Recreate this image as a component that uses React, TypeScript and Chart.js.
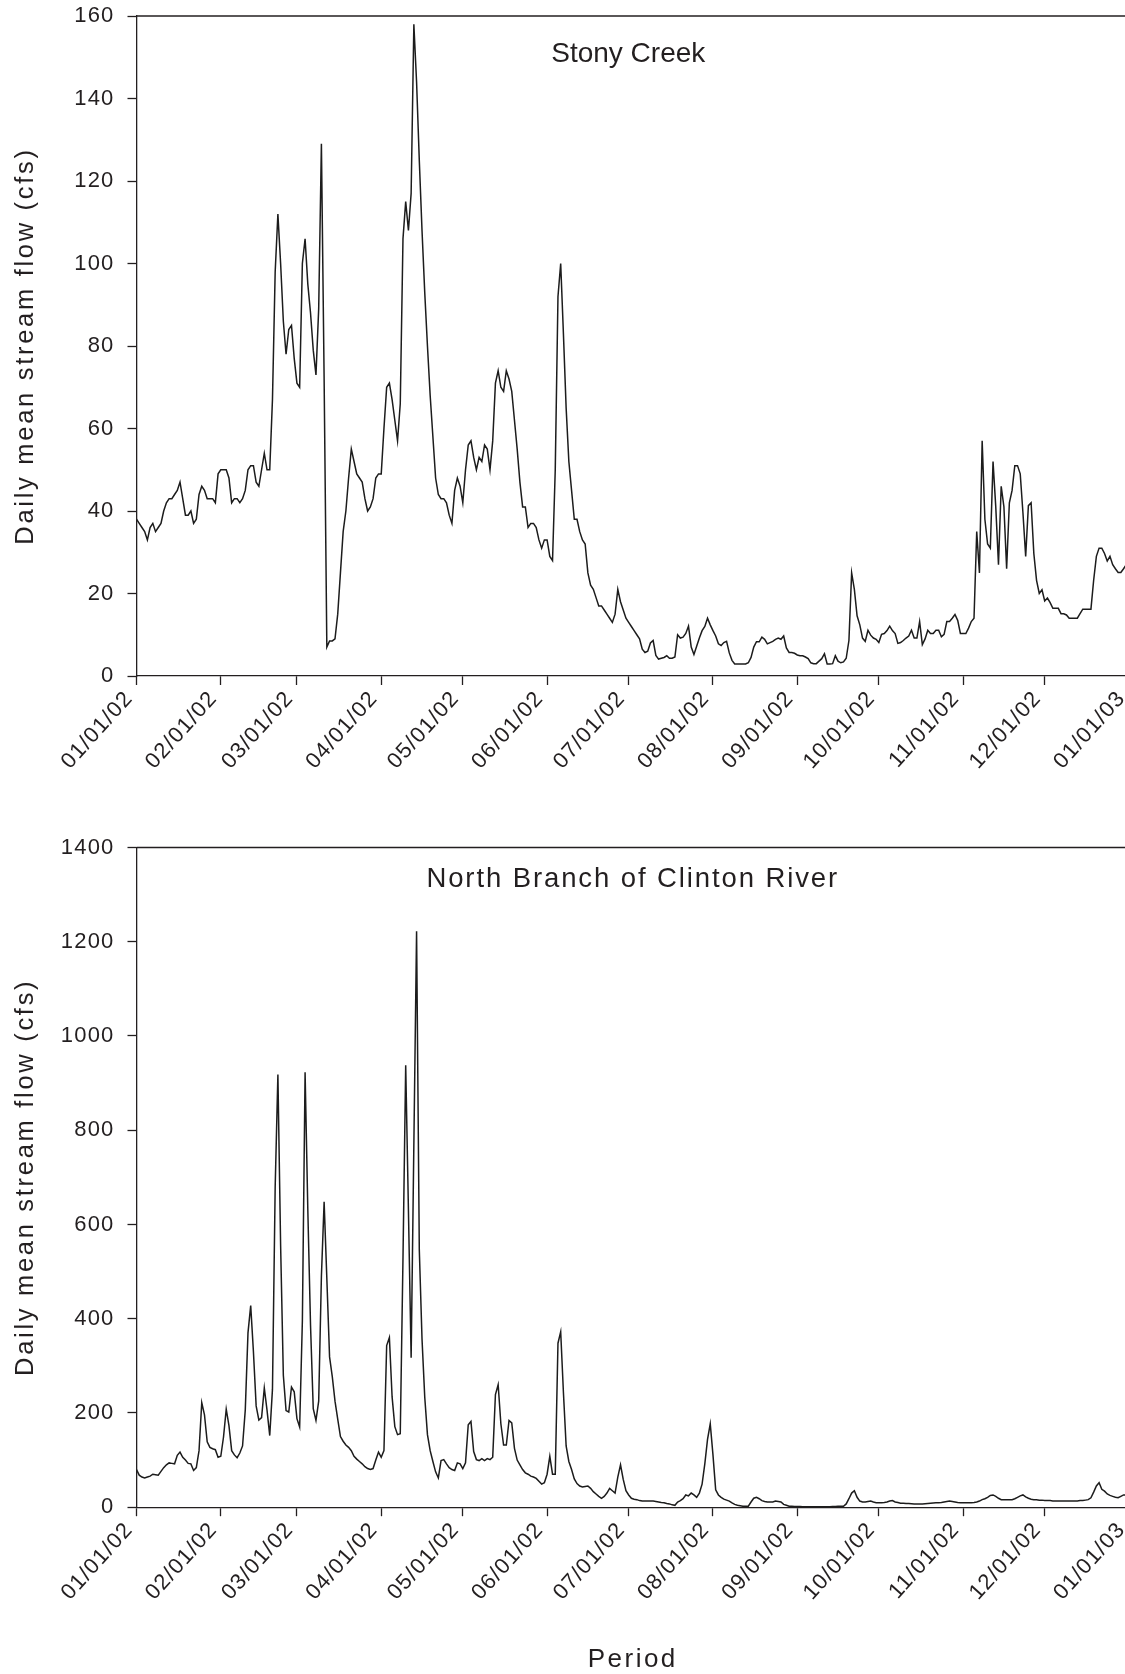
import React, { useEffect, useRef } from "react";
import { Chart, registerables } from "chart.js";

Chart.register(...registerables);

// Day index (0 = 01/01/02) of each month start used for x ticks
const MONTH_START_DAYS = [0, 31, 59, 90, 120, 151, 181, 212, 243, 273, 304, 334, 365];
const TICK_LABELS = [
  "01/01/02", "02/01/02", "03/01/02", "04/01/02", "05/01/02", "06/01/02", "07/01/02",
  "08/01/02", "09/01/02", "10/01/02", "11/01/02", "12/01/02", "01/01/03",
];

// Stony Creek daily mean stream flow (cfs), 2002-01-01 .. 2002-12-31
const STONY_CREEK = [
  // Jan
  38, 37, 36, 35, 33, 36, 37, 35, 36, 37, 40, 42, 43, 43, 44, 45, 47, 43, 39, 39, 40, 37, 38, 44, 46, 45, 43, 43, 43, 42, 49,
  // Feb
  50, 50, 50, 48, 42, 43, 43, 42, 43, 45, 50, 51, 51, 47, 46, 50, 54, 50, 50, 67, 98, 112, 100, 86, 78, 84, 85, 77,
  // Mar
  71, 70, 100, 106, 95, 88, 79, 73, 89, 129, 72, 7, 8.5, 8.5, 9, 15, 25, 35, 40, 48, 55, 52, 49, 48, 47, 43, 40, 41, 43, 48, 49,
  // Apr
  49, 60, 70, 71, 67, 62, 57, 66, 106, 115, 108, 117, 158, 144, 125, 108, 93, 80, 68, 58, 48, 44, 43, 43, 42, 39, 37, 45, 48, 46,
  // May
  42, 50, 56, 57, 53, 50, 53, 52, 56, 55, 50, 57, 71, 74, 70, 69, 74, 72, 69, 62, 55, 47, 41, 41, 36, 37, 37, 36, 33, 31, 33,
  // Jun
  33, 29, 28, 50, 92, 100, 83, 65, 52, 45, 38, 38, 35, 33, 32, 25, 22, 21, 19, 17, 17, 16, 15, 14, 13, 15, 21, 18, 16, 14,
  // Jul
  13, 12, 11, 10, 9, 6.5, 5.7, 6, 8, 8.6, 5, 4.1, 4.3, 4.5, 4.9, 4.3, 4.3, 4.6, 10, 9.2, 9.4, 10.3, 12.1, 7, 5.2, 7.2, 9.2, 11, 12, 14, 12.4,
  // Aug
  11, 9.7, 7.8, 7.4, 8.1, 8.4, 5.6, 3.8, 2.9, 2.9, 2.9, 2.9, 2.9, 3.2, 4.5, 7, 8.3, 8.3, 9.4, 8.9, 7.8, 8.1, 8.4, 8.9, 9.2, 8.9, 9.7, 6.8, 5.7, 5.7, 5.5,
  // Sep
  5.1, 4.9, 4.9, 4.6, 4.2, 3.2, 3, 3, 3.6, 4.2, 5.4, 2.9, 2.9, 3, 4.9, 3.6, 3.2, 3.4, 4.3, 8.6, 25, 21, 14.6, 12.4, 9.2, 8.4, 11.1, 9.9, 9.2, 8.9,
  // Oct
  8.1, 10.1, 10.3, 11, 12.1, 11, 10.3, 7.9, 8.1, 8.6, 9.2, 9.7, 11.1, 9.2, 9.2, 13.2, 7.6, 9, 11.1, 10.3, 10.3, 11.1, 11.1, 9.5, 10.1, 13.2, 13.2, 14, 14.9, 13.5, 10.3,
  // Nov
  10.3, 10.3, 11.6, 13.2, 14, 35, 25, 57, 38, 32, 31, 52, 41, 27, 46, 41, 26, 42, 45, 51, 51, 49, 39.5, 29, 41.3, 42, 29.7, 23.2, 20, 20.9,
  // Dec
  18.2, 18.9, 17.8, 16.4, 16.4, 16.4, 15.1, 15.1, 14.8, 14, 14, 14, 14, 15.1, 16.2, 16.2, 16.2, 16.2, 23.2, 29, 31, 31, 29.7, 27.9, 29, 27, 26, 25.1, 25.1, 26, 27,
];

// North Branch of Clinton River daily mean stream flow (cfs), 2002-01-01 .. 2002-12-31
const CLINTON_NORTH = [
  // Jan
  80, 68, 64, 62, 64, 66, 70, 69, 68, 76, 84, 90, 94, 93, 92, 110, 117, 106, 100, 93, 92, 78, 84, 120, 222, 196, 139, 127, 124, 122, 106,
  // Feb
  108, 149, 208, 173, 120, 111, 105, 115, 130, 206, 370, 428, 330, 215, 185, 190, 253, 206, 152, 250, 680, 918, 556, 280, 205, 202, 255, 245,
  // Mar
  188, 170, 395, 923, 632, 386, 209, 184, 225, 490, 648, 485, 319, 277, 225, 187, 150, 140, 132, 127, 120, 108, 102, 97, 92, 86, 82, 80, 82, 100, 117,
  // Apr
  106, 120, 343, 360, 234, 171, 154, 156, 528, 938, 632, 317, 770, 1222, 547, 357, 234, 154, 120, 97, 75, 62, 99, 101, 92, 84, 80, 78, 94, 92,
  // May
  82, 94, 175, 182, 118, 101, 99, 103, 99, 103, 101, 106, 239, 260, 177, 132, 132, 184, 179, 125, 100, 90, 80, 73, 70, 66, 64, 61, 55, 49, 52,
  // Jun
  70, 108, 70, 70, 348, 372, 244, 130, 97, 80, 60, 50, 45, 43, 44, 45, 40, 33, 28, 23, 19, 23, 30, 40, 35, 30, 64, 90, 59, 35,
  // Jul
  26, 19, 17, 16, 14, 13, 13, 13, 13, 13, 12, 11, 10, 9.5, 8, 7, 5, 4, 11, 14, 18, 26, 24, 30, 26, 21, 30, 49, 92, 144, 177,
  // Aug
  111, 37, 26, 21, 17, 15, 13, 9, 6, 4, 3, 2, 2, 2, 11, 19, 21, 18, 14, 12, 11, 11, 11, 13, 12, 11, 6, 4, 2, 2, 1.5,
  // Sep
  1.5, 1.5, 1, 1, 1, 1, 1, 1, 1, 1, 1, 1, 1, 1.5, 1.5, 2, 2, 2, 7, 18, 30, 35, 21, 13, 11, 11, 12, 13, 11, 9.5,
  // Oct
  9.5, 9.5, 10, 11, 13, 14, 11, 10, 8.5, 8.5, 8, 8, 7.5, 7, 7, 7, 7, 7.5, 8, 8.5, 9, 9.5, 9.5, 10, 11, 12, 13, 12, 11, 10, 9.5,
  // Nov
  9.5, 9.5, 9.5, 9.5, 10, 11, 13, 16, 18, 21, 25, 26, 23, 19, 16, 16, 16, 16, 16, 18, 21, 24, 26, 22, 19, 17, 16, 16, 15, 15,
  // Dec
  14, 14, 14, 13, 13, 13, 13, 13, 13, 13, 13, 13, 13, 14, 14, 15, 16, 20, 32, 45, 52, 38, 34, 28, 25, 23, 21, 20, 23, 26, 26,
];

const Y_TITLE = "Daily mean stream flow (cfs)";
const X_TITLE = "Period";

const FONT = '"Liberation Sans", Arial, Helvetica, sans-serif';
const INK = "#231f20";

type PanelProps = {
  values: number[];
  yMax: number;
  yStep: number;
  title: string;
  titleSize: number;
  titleSpacing: number;
  titleBaseline: number; // below chart area top
  titleCenterShift: number;
  canvasHeight: number;
  padTop: number;
  xAxisHeight: number;
  showPeriod: boolean;
  top: number;
};

const CANVAS_W = 1140;
const Y_AXIS_W = 136.5;
const PAD_RIGHT = 11;

function Panel(p: PanelProps) {
  const ref = useRef<HTMLCanvasElement | null>(null);

  useEffect(() => {
    if (!ref.current) return;
    const decor = {
      id: "decor",
      beforeDraw(chart: any) {
        chart.ctx.letterSpacing = "1.2px";
      },
      afterDraw(chart: any) {
        const ctx = chart.ctx as CanvasRenderingContext2D;
        const a = chart.chartArea;
        ctx.save();
        // top frame line
        ctx.strokeStyle = INK;
        ctx.lineWidth = 1.3;
        ctx.beginPath();
        ctx.moveTo(a.left, a.top);
        ctx.lineTo(a.right + 20, a.top);
        ctx.stroke();

        ctx.fillStyle = INK;
        // panel title
        (ctx as any).letterSpacing = p.titleSpacing + "px";
        ctx.font = `${p.titleSize}px ${FONT}`;
        ctx.textAlign = "center";
        ctx.textBaseline = "alphabetic";
        ctx.fillText(p.title, (a.left + a.right) / 2 + p.titleCenterShift, a.top + p.titleBaseline);

        // y-axis title
        (ctx as any).letterSpacing = "2.7px";
        ctx.font = `25.5px ${FONT}`;
        ctx.save();
        ctx.translate(a.left - 103.2, (a.top + a.bottom) / 2);
        ctx.rotate(-Math.PI / 2);
        ctx.textAlign = "center";
        ctx.fillText(Y_TITLE, 0, 0);
        ctx.restore();

        if (p.showPeriod) {
          (ctx as any).letterSpacing = "2.5px";
          ctx.font = `26px ${FONT}`;
          ctx.textAlign = "center";
          ctx.fillText(X_TITLE, (a.left + a.right) / 2, a.bottom + 159.5);
        }
        ctx.restore();
        (ctx as any).letterSpacing = "0px";
      },
    };

    const chart = new Chart(ref.current, {
      type: "line",
      data: {
        datasets: [
          {
            data: p.values.map((v, i) => ({ x: i, y: v })),
            borderColor: "#1c1c1c",
            borderWidth: 1.5,
            pointRadius: 0,
            tension: 0,
            fill: false,
          },
        ],
      },
      options: {
        animation: false,
        responsive: false,
        devicePixelRatio: 1,
        layout: { padding: { top: p.padTop, right: PAD_RIGHT, left: 0, bottom: 0 } },
        plugins: { legend: { display: false }, tooltip: { enabled: false }, title: { display: false } },
        scales: {
          x: {
            type: "linear",
            min: 0,
            max: 365,
            afterBuildTicks: (s: any) => {
              s.ticks = MONTH_START_DAYS.map((v) => ({ value: v }));
            },
            afterFit: (s: any) => {
              s.height = p.xAxisHeight;
              s.paddingLeft = 0;
              s.paddingRight = 0;
            },
            border: { display: true, color: INK, width: 1.3 },
            grid: {
              display: true,
              drawOnChartArea: false,
              drawTicks: true,
              tickLength: 9,
              tickWidth: 1.3,
              tickColor: INK,
            },
            ticks: {
              autoSkip: false,
              minRotation: 48,
              maxRotation: 48,
              padding: 1,
              labelOffset: -7.3,
              color: INK,
              font: { family: FONT, size: 22 },
              callback: (_v: any, i: number) => TICK_LABELS[i],
            },
          },
          y: {
            type: "linear",
            min: 0,
            max: p.yMax,
            afterFit: (s: any) => {
              s.width = Y_AXIS_W;
              s.paddingTop = 0;
              s.paddingBottom = 0;
            },
            border: { display: true, color: INK, width: 1.3 },
            grid: {
              display: true,
              drawOnChartArea: false,
              drawTicks: true,
              tickLength: 9,
              tickWidth: 1.3,
              tickColor: INK,
            },
            ticks: {
              stepSize: p.yStep,
              padding: 13,
              color: INK,
              font: { family: FONT, size: 22 },
              callback: (v: any) => String(v),
            },
          },
        },
      },
      plugins: [decor],
    } as any);
    return () => chart.destroy();
  }, []);

  return (
    <canvas
      ref={ref}
      width={CANVAS_W}
      height={p.canvasHeight}
      style={{ position: "absolute", left: 0, top: p.top, width: CANVAS_W, height: p.canvasHeight }}
    />
  );
}

export default function App() {
  return (
    <div
      style={{
        position: "absolute",
        left: 0,
        top: 0,
        width: 1125,
        height: 1674,
        overflow: "hidden",
        background: "#ffffff",
      }}
    >
      <Panel
        values={STONY_CREEK}
        yMax={160}
        yStep={20}
        title="Stony Creek"
        titleSize={28}
        titleSpacing={0}
        titleBaseline={46.3}
        titleCenterShift={-4.5}
        canvasHeight={800}
        padTop={16}
        xAxisHeight={124}
        showPeriod={false}
        top={0}
      />
      <Panel
        values={CLINTON_NORTH}
        yMax={1400}
        yStep={200}
        title="North Branch of Clinton River"
        titleSize={27.5}
        titleSpacing={1.9}
        titleBaseline={39.2}
        titleCenterShift={0}
        canvasHeight={874}
        padTop={47.5}
        xAxisHeight={166.8}
        showPeriod={true}
        top={800}
      />
    </div>
  );
}
